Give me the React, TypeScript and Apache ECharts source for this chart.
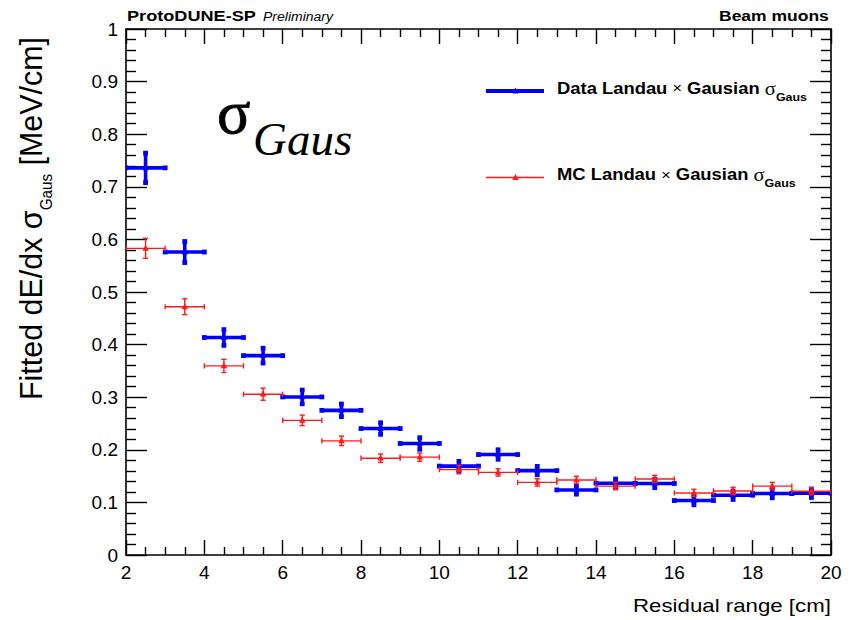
import React, { useEffect, useRef } from "react";
import * as echarts from "echarts";

// ---- data ----
const binCenters = [2.5, 3.5, 4.5, 5.5, 6.5, 7.5, 8.5, 9.5, 10.5, 11.5, 12.5, 13.5, 14.5, 15.5, 16.5, 17.5, 18.5, 19.5];
const binHalfWidth = 0.5;
const dataValues = [0.736, 0.576, 0.4135, 0.379, 0.3005, 0.275, 0.2404, 0.212, 0.169, 0.191, 0.1605, 0.1237, 0.1364, 0.136, 0.1035, 0.1136, 0.1168, 0.1174];
const dataErrors = [0.028, 0.02, 0.015, 0.014, 0.013, 0.012, 0.011, 0.011, 0.009, 0.009, 0.008, 0.008, 0.008, 0.008, 0.008, 0.008, 0.008, 0.008];
const mcValues = [0.583, 0.472, 0.3595, 0.3057, 0.256, 0.217, 0.184, 0.186, 0.1624, 0.157, 0.138, 0.1427, 0.131, 0.1446, 0.118, 0.1218, 0.131, 0.1212];
const mcErrors = [0.019, 0.015, 0.0125, 0.0115, 0.01, 0.009, 0.008, 0.008, 0.008, 0.007, 0.007, 0.007, 0.007, 0.007, 0.007, 0.007, 0.007, 0.007];

const xMin = 2, xMax = 20, xInterval = 2;
const yMin = 0, yMax = 1, yInterval = 0.1;

const SANS = "Liberation Sans, Arial, Helvetica, sans-serif";
const SERIF = "Liberation Serif, Times New Roman, serif";
const BLUE = "#0000ff";
const RED = "#ff1a1a";

type Piece = { text: string; size: number; family: string; weight?: string; style?: string; dy?: number };

let ctx: CanvasRenderingContext2D | null = null;
function measure(text: string, font: string): number {
  if (!ctx) ctx = document.createElement("canvas").getContext("2d");
  if (!ctx) return text.length * 8;
  ctx.font = font;
  return ctx.measureText(text).width;
}

function buildLine(pieces: Piece[]) {
  let x = 0;
  const children: any[] = [];
  for (const p of pieces) {
    const font = `${p.style || "normal"} ${p.weight || "normal"} ${p.size}px ${p.family}`;
    const trimmed = p.text.trimStart();
    const lead = p.text.length - trimmed.length;
    const leadW = lead > 0 ? measure(" ".repeat(lead), font) : 0;
    const shown = trimmed.trimEnd();
    if (shown.length) {
      children.push({
        type: "text",
        x: x + leadW,
        y: p.dy || 0,
        silent: true,
        style: {
          text: shown,
          fontSize: p.size,
          fontFamily: p.family,
          fontWeight: p.weight || "normal",
          fontStyle: p.style || "normal",
          fill: "#000",
          align: "left",
          verticalAlign: "middle",
        },
      });
    }
    x += measure(p.text, font);
  }
  return { children, width: x };
}

function textGroup(pieces: Piece[], x: number, y: number, opts: { target?: number; scale?: number; right?: boolean; rotation?: number } = {}) {
  const { children, width } = buildLine(pieces);
  const s = opts.scale ?? (opts.target ? opts.target / width : 1);
  const gx = opts.right ? x - width * s : x;
  return { el: { type: "group", x: gx, y, scaleX: s, rotation: opts.rotation || 0, children, silent: true }, scale: s };
}

function triangle(cx: number, cy: number, w: number, h: number, color: string) {
  return {
    type: "polygon",
    shape: { points: [[cx, cy - h * 0.6], [cx - w / 2, cy + h * 0.4], [cx + w / 2, cy + h * 0.4]] },
    style: { fill: color },
  };
}

function makeDataRender() {
  return (params: any, api: any) => {
    const x = api.value(0), y = api.value(1), e = api.value(2);
    const l = api.coord([x - binHalfWidth, y]);
    const r = api.coord([x + binHalfWidth, y]);
    const t = api.coord([x, y + e]);
    const b = api.coord([x, y - e]);
    const c = api.coord([x, y]);
    const st = { stroke: BLUE, lineWidth: 3.6 };
    const cap = (p: number[]) => ({ type: "rect", shape: { x: p[0] - 2.4, y: p[1] - 2.4, width: 4.8, height: 4.8 }, style: { fill: BLUE } });
    return {
      type: "group",
      children: [
        { type: "line", shape: { x1: l[0], y1: l[1], x2: r[0], y2: r[1] }, style: st },
        { type: "line", shape: { x1: t[0], y1: t[1], x2: b[0], y2: b[1] }, style: st },
        cap(l), cap(r), cap(t), cap(b),
        triangle(c[0], c[1], 6, 6, BLUE),
      ],
    };
  };
}

function makeMcRender() {
  return (params: any, api: any) => {
    const x = api.value(0), y = api.value(1), e = api.value(2);
    const l = api.coord([x - binHalfWidth, y]);
    const r = api.coord([x + binHalfWidth, y]);
    const t = api.coord([x, y + e]);
    const b = api.coord([x, y - e]);
    const c = api.coord([x, y]);
    const st = { stroke: RED, lineWidth: 1.4 };
    const k = 2.6;
    return {
      type: "group",
      children: [
        { type: "line", shape: { x1: l[0], y1: l[1], x2: r[0], y2: r[1] }, style: st },
        { type: "line", shape: { x1: t[0], y1: t[1], x2: b[0], y2: b[1] }, style: st },
        { type: "line", shape: { x1: l[0], y1: l[1] - k, x2: l[0], y2: l[1] + k }, style: st },
        { type: "line", shape: { x1: r[0], y1: r[1] - k, x2: r[0], y2: r[1] + k }, style: st },
        { type: "line", shape: { x1: t[0] - k, y1: t[1], x2: t[0] + k, y2: t[1] }, style: st },
        { type: "line", shape: { x1: b[0] - k, y1: b[1], x2: b[0] + k, y2: b[1] }, style: st },
        triangle(c[0], c[1], 6.5, 6, RED),
      ],
    };
  };
}

export default function App() {
  const ref = useRef<HTMLDivElement>(null);

  useEffect(() => {
    if (!ref.current) return;
    const chart = echarts.init(ref.current, undefined, { renderer: "svg" });

    const tickColor = "#000";
    const xAxisBase = {
      type: "value",
      min: xMin,
      max: xMax,
      interval: xInterval,
      axisLine: { show: true, onZero: false, lineStyle: { color: "#000", width: 1.6 } },
      axisTick: { show: true, inside: true, length: 15, lineStyle: { color: tickColor, width: 1.4 } },
      minorTick: { show: true, splitNumber: 4, length: 8, lineStyle: { color: tickColor, width: 1.4 } },
      splitLine: { show: false },
      minorSplitLine: { show: false },
    };
    const yAxisBase = {
      type: "value",
      min: yMin,
      max: yMax,
      interval: yInterval,
      axisLine: { show: true, onZero: false, lineStyle: { color: "#000", width: 1.6 } },
      axisTick: { show: true, inside: true, length: 21, lineStyle: { color: tickColor, width: 1.4 } },
      minorTick: { show: true, splitNumber: 5, length: 10, lineStyle: { color: tickColor, width: 1.4 } },
      splitLine: { show: false },
      minorSplitLine: { show: false },
    };

    // texts
    const header1 = textGroup([{ text: "ProtoDUNE-SP", size: 15.5, family: SANS, weight: "bold" }], 127, 21 - 0.35 * 15.5, { target: 129 });
    const header2 = textGroup([{ text: "Preliminary", size: 13.5, family: SANS, style: "italic" }], 263, 21 - 0.35 * 13.5, { target: 70 });
    const header3 = textGroup([{ text: "Beam muons", size: 15.5, family: SANS, weight: "bold" }], 829, 21 - 0.35 * 15.5, { target: 110, right: true });

    const xTitle = textGroup([{ text: "Residual range [cm]", size: 17.5, family: SANS }], 831, 612 - 0.35 * 17.5, { target: 198, right: true });

    const yTitle = textGroup(
      [
        { text: "Fitted dE/dx σ", size: 32, family: SANS },
        { text: "Gaus", size: 16, family: SANS, dy: 15 },
        { text: " [MeV/cm]", size: 32, family: SANS },
      ],
      31, 400,
      { target: 363, rotation: Math.PI / 2 }
    );

    const bigSigma = {
      type: "text",
      x: 217,
      y: 133 - 0.34 * 62,
      silent: true,
      style: { text: "σ", fontSize: 62, fontFamily: SERIF, fill: "#000", align: "left", verticalAlign: "middle", stroke: "#000", lineWidth: 0.8 },
    };
    const bigGaus = {
      type: "text",
      x: 253,
      y: 155 - 0.34 * 47,
      silent: true,
      style: { text: "Gaus", fontSize: 47, fontFamily: SERIF, fontStyle: "italic", fill: "#000", align: "left", verticalAlign: "middle" },
    };

    const legendPieces = (label: string): Piece[] => [
      { text: label + " Landau ", size: 17, family: SANS, weight: "bold" },
      { text: "×", size: 15, family: SANS },
      { text: " Gausian ", size: 17, family: SANS, weight: "bold" },
      { text: "σ", size: 19, family: SERIF },
      { text: "Gaus", size: 11.5, family: SANS, weight: "bold", dy: 9 },
    ];
    const legData = textGroup(legendPieces("Data"), 557, 88, { target: 250 });
    const legMc = textGroup(legendPieces("MC"), 557, 174.5, { scale: legData.scale });

    const legendGraphics = [
      { type: "line", shape: { x1: 486, y1: 91, x2: 544, y2: 91 }, style: { stroke: BLUE, lineWidth: 4 }, silent: true },
      { ...triangle(515.5, 91, 6, 6, BLUE), silent: true },
      { type: "line", shape: { x1: 486, y1: 177.5, x2: 544, y2: 177.5 }, style: { stroke: RED, lineWidth: 1.4 }, silent: true },
      { ...triangle(515.5, 177.5, 6.5, 6, RED), silent: true },
    ];

    chart.setOption({
      animation: false,
      backgroundColor: "#ffffff",
      grid: { left: 126, right: 20, top: 29, bottom: 65, containLabel: false },
      xAxis: [
        {
          ...xAxisBase,
          position: "bottom",
          axisLabel: { show: true, color: "#000", fontSize: 19, fontFamily: SANS, margin: 8 },
        },
        { ...xAxisBase, position: "top", axisLabel: { show: false } },
      ],
      yAxis: [
        {
          ...yAxisBase,
          position: "left",
          axisLabel: { show: true, color: "#000", fontSize: 19, fontFamily: SANS, margin: 8 },
        },
        { ...yAxisBase, position: "right", axisLabel: { show: false } },
      ],
      series: [
        {
          type: "custom",
          name: "Data",
          xAxisIndex: 0,
          yAxisIndex: 0,
          clip: true,
          renderItem: makeDataRender(),
          data: binCenters.map((c, i) => [c, dataValues[i], dataErrors[i]]),
        },
        {
          type: "custom",
          name: "MC",
          xAxisIndex: 0,
          yAxisIndex: 0,
          clip: true,
          renderItem: makeMcRender(),
          data: binCenters.map((c, i) => [c, mcValues[i], mcErrors[i]]),
        },
      ],
      graphic: [
        header1.el,
        header2.el,
        header3.el,
        xTitle.el,
        yTitle.el,
        bigSigma,
        bigGaus,
        legData.el,
        legMc.el,
        ...legendGraphics,
      ],
    });

    return () => chart.dispose();
  }, []);

  return (
    <div
      ref={ref}
      style={{ position: "absolute", left: 0, top: 0, width: 851, height: 620, background: "#fff" }}
    />
  );
}
